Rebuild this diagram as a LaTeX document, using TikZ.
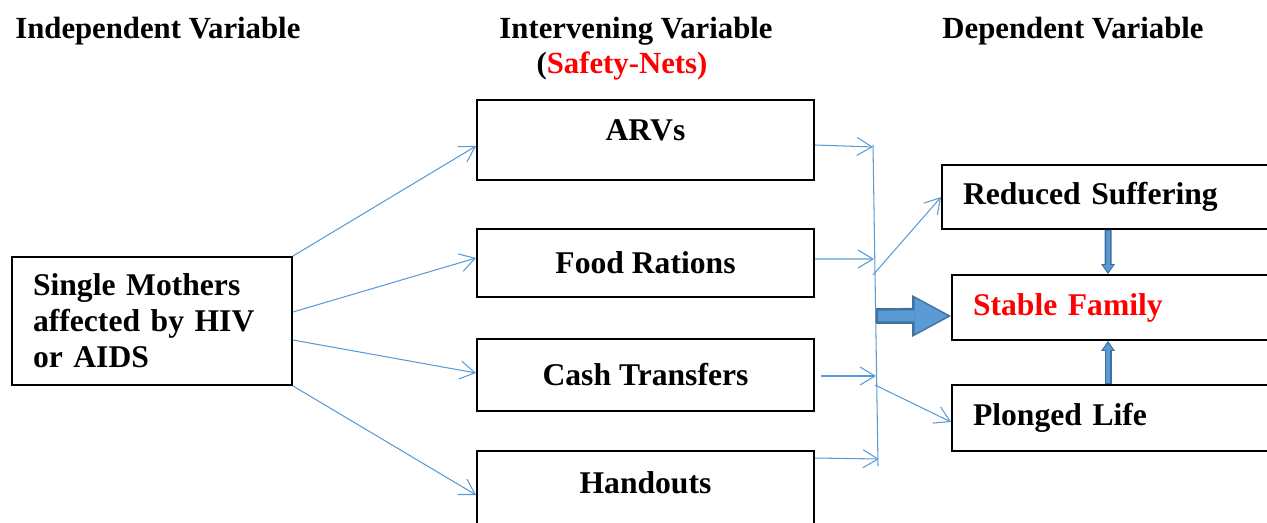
\documentclass[tikz,border=0pt]{standalone}
\usepackage{fontspec}
\setmainfont{Liberation Serif}
\usetikzlibrary{arrows.meta}
\definecolor{linkblue}{RGB}{91,155,213}
\definecolor{edgeblue}{RGB}{65,113,156}
\definecolor{safetyred}{RGB}{255,0,0}

\begin{document}
\begin{tikzpicture}[x=0.02cm, y=-0.02cm,
    box/.style={draw, line width=1.1pt, inner sep=0pt,
                font=\fontsize{18pt}{20.5pt}\selectfont\bfseries},
    hdr/.style={inner sep=0pt, font=\fontsize{17.5pt}{20pt}\selectfont\bfseries},
    link/.style={->, linkblue, line width=0.6pt,
                 >={Straight Barb[length=0.3cm, width=0.36cm]}},
    fatarrow/.style={draw=edgeblue, line width=0.32cm,
                -{Triangle[length=0.78cm, width=0.84cm, line width=0pt]},
                postaction={draw=linkblue, line width=0.22cm, shorten >=0.07cm, shorten <=0.04cm,
                -{Triangle[length=0.66cm, width=0.72cm, line width=0pt]}}},
    slimarrow/.style={draw=edgeblue, line width=0.14cm,
                -{Triangle[length=0.2cm, width=0.28cm, line width=0pt]},
                postaction={draw=linkblue, line width=0.07cm, shorten >=0.04cm, shorten <=0.02cm,
                -{Triangle[length=0.14cm, width=0.2cm, line width=0pt]}}}
  ]
    \useasboundingbox (0,0) rectangle (1267,523);

    % headings
    \node[hdr, anchor=west] (indep) at (15,31) {Independent Variable};
    \node[hdr] (interv) at (636,31) {Intervening Variable};
    \node[hdr] (safety) at (622,66) {(\textcolor{safetyred}{Safety-Nets)}};
    \node[hdr] (dep) at (1073,31) {Dependent Variable};

    % boxes
    \node[box, minimum width=5.6cm, minimum height=2.56cm, text width=4.76cm,
          inner xsep=0.42cm, align=left] (mothers) at (152,321)
          {Single Mothers\\affected by HIV\\or AIDS};
    \node[box, minimum width=6.74cm, minimum height=1.6cm, text depth=0.38cm] (arvs) at (645.5,140) {ARVs};
    \node[box, minimum width=6.74cm, minimum height=1.36cm] (food) at (645.5,263) {Food Rations};
    \node[box, minimum width=6.74cm, minimum height=1.44cm] (cash) at (645.5,375) {Cash Transfers};
    \node[box, minimum width=6.74cm, minimum height=1.6cm, text depth=0.34cm] (hand) at (645.5,491) {Handouts};

    \node[box, minimum width=6.86cm, minimum height=1.28cm, text width=6.02cm,
          inner xsep=0.42cm, align=left] (reduced) at (1113.5,197) {Reduced Suffering};
    \node[box, minimum width=6.66cm, minimum height=1.3cm, text width=5.82cm,
          inner xsep=0.42cm, align=left, text=safetyred] (stable) at (1118.5,307.5) {Stable Family};
    \node[box, minimum width=6.66cm, minimum height=1.32cm, text width=5.82cm,
          inner xsep=0.42cm, align=left] (plonged) at (1118.5,418) {Plonged Life};

    % points on the collecting line
    \coordinate (b1) at (873,147);
    \coordinate (b2) at (874,259);
    \coordinate (b3) at (876,376);
    \coordinate (b4) at (879,459);
    \coordinate (up) at (873,275);
    \coordinate (mid) at (876,316);
    \coordinate (low) at (875,385);

    % from the independent variable
    \draw[link] (mothers.north east) -- ([yshift=-0.12cm]arvs.west);
    \draw[link] ([yshift=0.18cm]mothers.east) -- ([yshift=0.1cm]food.west);
    \draw[link] ([yshift=-0.38cm]mothers.east) -- ([yshift=0.04cm]cash.west);
    \draw[link] (mothers.south east) -- ([yshift=-0.08cm]hand.west);

    % into the collecting line
    \draw[link] ([yshift=-0.1cm]arvs.east) -- (b1);
    \draw[link] ([yshift=0.08cm]food.east) -- (b2);
    \draw[link] ([xshift=0.12cm, yshift=-0.02cm]cash.east) -- (b3);
    \draw[link] ([yshift=0.66cm]hand.east) -- (b4);
    \draw[linkblue, line width=0.6pt] ([yshift=0.04cm]b1) -- ([xshift=-0.02cm, yshift=-0.14cm]b4);

    % to the dependent variable
    \draw[link] (up) -- (reduced.west);
    \draw[link] (low) -- ([yshift=-0.08cm]plonged.west);
    \draw[fatarrow] (mid) -- ([yshift=-0.17cm]stable.west);
    \draw[slimarrow] ([xshift=-0.11cm]reduced.south) -- ([xshift=-0.21cm]stable.north);
    \draw[slimarrow] ([xshift=-0.21cm]plonged.north) -- ([xshift=-0.21cm]stable.south);
  \end{tikzpicture}
\end{document}
